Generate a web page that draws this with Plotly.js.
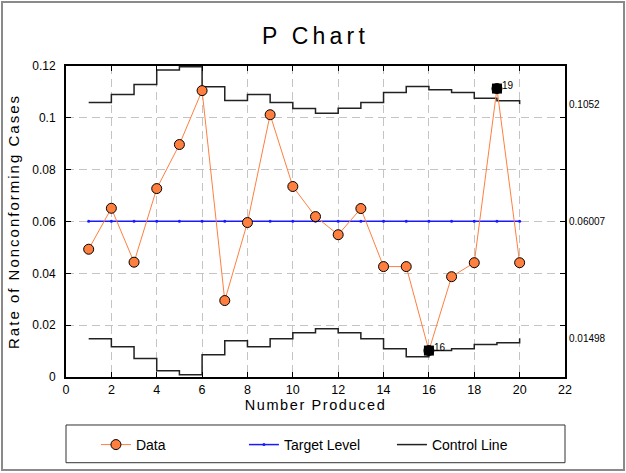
<!DOCTYPE html>
<html><head><meta charset="utf-8">
<script src="https://cdn.plot.ly/plotly-3.0.1.min.js"></script>
<style>
html,body{margin:0;padding:0;background:#fff;}
#wrap{position:relative;width:626px;height:473px;}
#chart{width:626px;height:473px;}
#frame{position:absolute;left:1px;top:1px;width:624px;height:470px;border:2px solid #8a8a8a;box-sizing:border-box;pointer-events:none;}
.gtitle{letter-spacing:4.2px;}
.xtitle{letter-spacing:1.6px;}
.ytitle{letter-spacing:2px;}
</style></head>
<body><div id="wrap"><div id="chart"></div><div id="frame"></div></div>
<script>
const samples = [1,2,3,4,5,6,7,8,9,10,11,12,13,14,15,16,17,18,19,20];
const proportions = [0.0493,0.0651,0.0443,0.0727,0.0897,0.1105,0.0295,0.0596,0.1012,0.0735,
                     0.0619,0.0549,0.0650,0.0426,0.0426,0.0102,0.0387,0.0441,0.1113,0.0441];
const targetLevel = [0.06007,0.06007,0.06007,0.06007,0.06007,0.06007,0.06007,0.06007,0.06007,0.06007,
                     0.06007,0.06007,0.06007,0.06007,0.06007,0.06007,0.06007,0.06007,0.06007,0.06007];
const upperLimit = [0.1059,0.1090,0.1129,0.1185,0.1197,0.1120,0.1067,0.1090,0.1059,0.1036,
                    0.1018,0.1037,0.1059,0.1098,0.1121,0.1108,0.1098,0.1076,0.1066,0.1052];
const lowerLimit = [0.0148,0.0117,0.0071,0.0024,0.0009,0.0086,0.0140,0.0117,0.0148,0.0171,
                    0.0186,0.0171,0.0148,0.0109,0.0078,0.0102,0.0109,0.0125,0.0132,0.01498];
const outOfControl = [16, 19];
const xTickVals = [0,2,4,6,8,10,12,14,16,18,20,22];
const xTickText = ['0','2','4','6','8','10','12','14','16','18','20','22'];
const yTickVals = [0,0.02,0.04,0.06,0.08,0.1,0.12];
const yTickText = ['0','0.02','0.04','0.06','0.08','0.1','0.12'];
const limitLabels = ['0.1052','0.06007','0.01498'];

const FONT = 'Liberation Sans, Arial, Helvetica, sans-serif';
const ORANGE = '#ff7f3f';

const idx = outOfControl.map(n => samples.indexOf(n));
const ooX = idx.map(i => samples[i]);
const ooY = idx.map(i => proportions[i]);

const controlTrace = {
  name: 'Control Line', legendrank: 3,
  x: samples.concat([null], samples),
  y: upperLimit.concat([null], lowerLimit),
  mode: 'lines', line: {color: '#222222', width: 1.5, shape: 'hv'},
  connectgaps: false, hoverinfo: 'skip'
};
const targetTrace = {
  name: 'Target Level', legendrank: 2,
  x: samples, y: targetLevel, mode: 'lines+markers',
  line: {color: '#1a1aff', width: 1.5},
  marker: {size: 3, color: '#1a1aff'}
};
const dataTrace = {
  name: 'Data', legendrank: 1,
  x: samples, y: proportions, mode: 'lines+markers',
  line: {color: ORANGE, width: 1},
  marker: {symbol: 'circle', size: 10, color: ORANGE, line: {color: '#000', width: 1}}
};
const ooTrace = {
  name: 'Out of Control', showlegend: false,
  x: ooX, y: ooY, mode: 'markers',
  marker: {symbol: 'square', size: 10, color: '#000'}
};

const annotations = [];
const lastU = upperLimit[upperLimit.length-1];
const lastC = targetLevel[targetLevel.length-1];
const lastL = lowerLimit[lowerLimit.length-1];
[lastU, lastC, lastL].forEach((v, k) => {
  annotations.push({xref:'paper', x:1, xanchor:'left', xshift:2, yref:'y', y:v, yanchor:'middle',
    text: limitLabels[k], showarrow:false, font:{family:FONT, size:10, color:'#000'}});
});
ooX.forEach((xv, k) => {
  annotations.push({xref:'x', x:xv, yref:'y', y:ooY[k], xanchor:'left', yanchor:'middle',
    xshift:3, yshift:3, text:String(xv), showarrow:false, font:{family:FONT, size:10, color:'#000'}});
});

const layout = {
  width: 626, height: 473,
  margin: {l: 66, r: 61, t: 66, b: 96},
  paper_bgcolor: '#fff', plot_bgcolor: '#fff',
  font: {family: FONT, color: '#000'},
  title: {text: 'P Chart', font: {family: FONT, size: 23, color: '#000'},
          xref: 'paper', x: 0.5, xanchor: 'center', yref: 'container', y: 1 - 35.5/473, yanchor: 'middle'},
  xaxis: {
    range: [0, 22], tickvals: xTickVals, ticktext: xTickText,
    showline: true, linecolor: '#000', linewidth: 2, mirror: 'ticks',
    ticks: 'inside', ticklen: 5, tickcolor: '#000', tickwidth: 1,
    showgrid: true, gridcolor: '#c4c4c4', gridwidth: 1, griddash: '8px,5px',
    zeroline: false, tickfont: {family: FONT, size: 12.5, color: '#000'},
    title: {text: 'Number Produced', font: {family: FONT, size: 14.5, color: '#000'}, standoff: 3}
  },
  yaxis: {
    range: [0, 0.12], tickvals: yTickVals, ticktext: yTickText,
    showline: true, linecolor: '#000', linewidth: 2, mirror: 'ticks',
    ticks: 'inside', ticklen: 5, tickcolor: '#000', tickwidth: 1,
    showgrid: true, gridcolor: '#c4c4c4', gridwidth: 1, griddash: '8px,5px',
    zeroline: false, tickfont: {family: FONT, size: 12, color: '#000'},
    ticklabelstandoff: 6,
    title: {text: 'Rate of Nonconforming Cases', font: {family: FONT, size: 15, color: '#000'}, standoff: 9}
  },
  showlegend: true,
  legend: {orientation: 'h', x: 0.060, xanchor: 'left', y: -0.2186, yanchor: 'middle',
           bgcolor: 'rgba(0,0,0,0)', borderwidth: 0, font: {family: FONT, size: 14, color: '#000'},
           entrywidth: 103, entrywidthmode: 'pixels', itemwidth: 30, traceorder: 'normal'},
  shapes: [{type: 'rect', xref: 'paper', yref: 'paper', x0: 0, x1: 1, y0: -0.1543, y1: -0.2756,
            line: {color: '#333', width: 1}, fillcolor: 'rgba(0,0,0,0)', layer: 'above'}],
  annotations: annotations
};

Plotly.newPlot('chart', [controlTrace, targetTrace, dataTrace, ooTrace], layout,
  {displayModeBar: false, staticPlot: true});
</script>
</body></html>
